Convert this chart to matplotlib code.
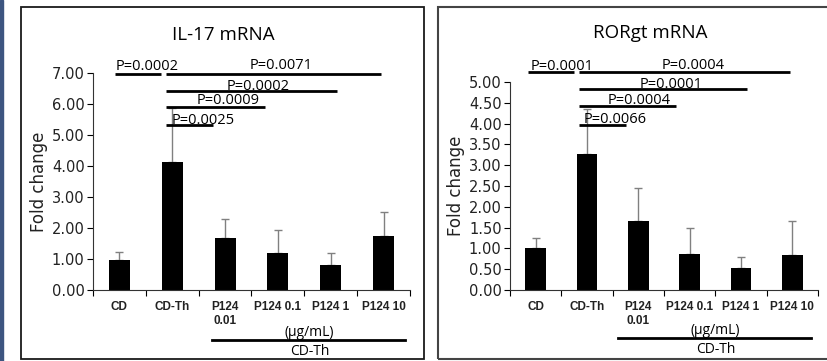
import numpy as np
import matplotlib.pyplot as plt
from matplotlib.patches import Rectangle
from matplotlib.lines import Line2D

groups = ['CD', 'CD-Th', 'P124\n0.01', 'P124 0.1', 'P124 1', 'P124 10']

il17_mean = [0.98, 4.12, 1.67, 1.20, 0.81, 1.74]
il17_top = [1.23, 5.87, 2.28, 1.95, 1.19, 2.53]

ror_mean = [1.00, 3.26, 1.67, 0.86, 0.54, 0.84]
ror_top = [1.26, 4.35, 2.44, 1.50, 0.80, 1.65]

# significance bars: (x start, x end, y line, label, x text, y text)
il17_sig = [
    (-0.09, 0.79, 6.96, 'P=0.0002', 0.52, 7.22),
    (0.88, 4.96, 6.96, 'P=0.0071', 3.07, 7.25),
    (0.88, 4.12, 6.42, 'P=0.0002', 2.63, 6.58),
    (0.88, 2.75, 5.90, 'P=0.0009', 2.05, 6.10),
    (0.88, 1.78, 5.33, 'P=0.0025', 1.59, 5.48),
]
ror_sig = [
    (-0.14, 0.75, 5.24, 'P=0.0001', 0.52, 5.38),
    (0.85, 4.95, 5.24, 'P=0.0004', 3.06, 5.40),
    (0.85, 4.11, 4.82, 'P=0.0001', 2.63, 4.94),
    (0.85, 2.74, 4.43, 'P=0.0004', 2.02, 4.56),
    (0.85, 1.76, 3.96, 'P=0.0066', 1.55, 4.10),
]

plt.rcParams['font.family'] = ['DejaVu Sans']
calibri = ['Open Sans', 'DejaVu Sans']
fig = plt.figure(figsize=(8.27, 3.61), dpi=100)

# panel frames and left strip
fig.patches.append(Rectangle((0, 0), 2.5 / 827, 1, transform=fig.transFigure,
                             color='#3d5580', zorder=0))
fig.patches.append(Rectangle((21 / 827, 2 / 361), 403 / 827, 352 / 361,
                             transform=fig.transFigure, fill=False,
                             edgecolor='#1a1a1a', lw=1.3))
fig.patches.append(Rectangle((438 / 827, 2 / 361), 400 / 827, 352 / 361,
                             transform=fig.transFigure, fill=False,
                             edgecolor='#444444', lw=1.5))


def panel(rect, mean, top, ymax, yticks, title, sig, title_xy, line_x, lab_x):
    ax = fig.add_axes(rect)
    x = np.arange(len(groups))
    err = np.array(top) - np.array(mean)
    ax.bar(x, mean, width=0.4, color='black', zorder=2)
    ax.errorbar(x, mean, yerr=[np.zeros(len(x)), err], fmt='none',
                ecolor='#808080', elinewidth=1, capsize=3, capthick=1, zorder=1)
    ax.set_xlim(-0.5, 5.5)
    ax.set_ylim(0, ymax)
    ax.set_yticks(yticks)
    ax.set_yticklabels(['%.2f' % v for v in yticks], fontsize=10.5, color='#222222')
    ax.set_xticks(x)
    ax.set_xticklabels(groups, fontsize=8.5, fontweight='bold', color='#222222',
                       family=['Liberation Sans', 'DejaVu Sans'],
                       linespacing=1.2, va='top')
    ax.set_xticks(np.arange(-0.5, 6, 1), minor=True)
    ax.tick_params(axis='x', which='major', length=0, pad=8)
    ax.tick_params(axis='x', which='minor', length=4, direction='out', width=0.8)
    ax.tick_params(axis='y', length=4, direction='out', width=0.8, pad=2)
    for s in ['top', 'right']:
        ax.spines[s].set_visible(False)
    for s in ['left', 'bottom']:
        ax.spines[s].set_linewidth(0.8)
        ax.spines[s].set_color('#333333')
    ax.set_ylabel('Fold change', fontsize=12, labelpad=3, color='#222222')
    fig.text(title_xy[0], title_xy[1], title, fontsize=13.5, family=calibri,
             ha='center', va='center')
    for x0, x1, yl, lab, xt, yt in sig:
        ax.plot([x0, x1], [yl, yl], color='black', lw=2, clip_on=False,
                solid_capstyle='butt', zorder=3)
        ax.text(xt, yt, lab, fontsize=10.5, family=calibri, ha='center',
                va='center', clip_on=False, zorder=4)
    tr = ax.get_xaxis_transform()
    ax.add_line(Line2D(line_x, [-0.23, -0.23], transform=tr, color='black',
                       lw=2, clip_on=False))
    ax.text(lab_x, -0.195, '(\u00b5g/mL)', transform=tr, fontsize=10,
            family=calibri, ha='center', va='center', clip_on=False)
    ax.text(lab_x, -0.285, 'CD-Th', transform=tr, fontsize=10,
            family=calibri, ha='center', va='center', clip_on=False)
    return ax


panel([93 / 827, 71 / 361, 317 / 827, 217 / 361], il17_mean, il17_top, 7,
      np.arange(0, 7.01, 1.0), 'IL-17 mRNA', il17_sig, (223 / 827, 1 - 35 / 361),
      [1.75, 5.40], 3.6)
panel([510 / 827, 71 / 361, 308 / 827, 208 / 361], ror_mean, ror_top, 5,
      np.arange(0, 5.01, 0.5), 'RORgt mRNA', ror_sig, (650 / 827, 1 - 33 / 361),
      [1.61, 5.37], 3.5)

fig.savefig('out.png', dpi=100)
